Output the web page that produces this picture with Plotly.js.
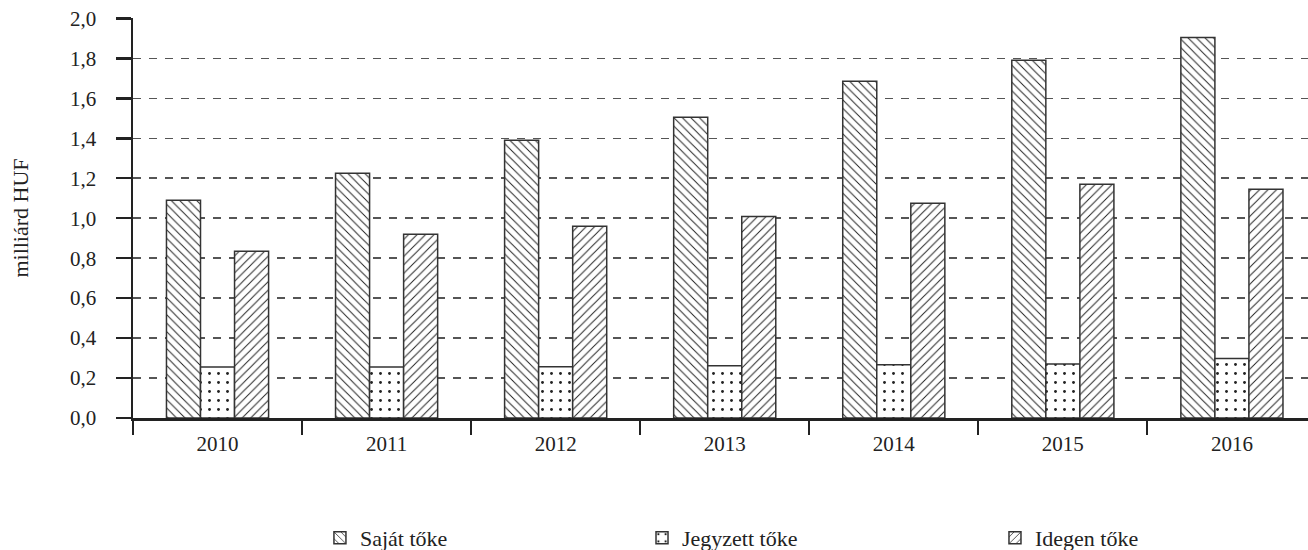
<!DOCTYPE html>
<html>
<head>
<meta charset="utf-8">
<script src="https://cdn.plot.ly/plotly-3.0.1.min.js"></script>
<style>html,body{margin:0;padding:0;background:#fff}</style>
</head>
<body>
<div id="chart" style="width:1308px;height:550px"></div>
<script>
const years = ['2010','2011','2012','2013','2014','2015','2016'];
const sajatToke = [1.09, 1.225, 1.39, 1.505, 1.685, 1.79, 1.905];
const jegyzettToke = [0.255, 0.255, 0.257, 0.262, 0.267, 0.27, 0.298];
const idegenToke = [0.835, 0.92, 0.96, 1.008, 1.075, 1.17, 1.145];
const seriesNames = ['Saját tőke', 'Jegyzett tőke', 'Idegen tőke'];

const font = {family: 'Liberation Serif, serif', size: 21, color: '#222'};
const legendFont = {family: 'Liberation Serif, serif', size: 22, color: '#222'};
const titleFont = {family: 'Liberation Serif, serif', size: 22, color: '#222'};

function bar(name, y, shape, size, solidity, legendId) {
  return {
    type: 'bar', name: name, x: years, y: y, legend: legendId,
    marker: {
      color: '#fff',
      line: {color: '#333', width: 1.5},
      pattern: {shape: shape, fgcolor: '#222', bgcolor: '#fff', size: size, solidity: solidity, fillmode: 'replace'}
    },
    hoverinfo: 'x+y+name'
  };
}

const data = [
  bar(seriesNames[0], sajatToke, '\\', 6, 0.16, 'legend'),
  bar(seriesNames[1], jegyzettToke, '.', 9, 0.08, 'legend2'),
  bar(seriesNames[2], idegenToke, '/', 6, 0.16, 'legend3')
];

function leg(x) {
  return {orientation: 'h', x: x, xanchor: 'left', y: -0.3, yanchor: 'middle',
          font: legendFont, bgcolor: 'rgba(0,0,0,0)', borderwidth: 0};
}

const layout = {
  width: 1308, height: 550,
  margin: {l: 133, r: 0, t: 18, b: 132, autoexpand: false},
  paper_bgcolor: '#fff', plot_bgcolor: '#fff',
  font: font,
  separators: ', ',
  barmode: 'group', bargap: 0.396, bargroupgap: 0,
  showlegend: true,
  legend: leg(0.1591),
  legend2: leg(0.4332),
  legend3: leg(0.7336),
  xaxis: {
    type: 'category', range: [-0.5, 6.45],
    tickson: 'boundaries', ticks: 'outside', ticklen: 14, tickwidth: 2, tickcolor: '#222',
    ticklabelstandoff: 5,
    showline: true, linecolor: '#222', linewidth: 2.5,
    showgrid: false, zeroline: false, tickfont: font, fixedrange: true, automargin: false
  },
  yaxis: {
    range: [0, 2.002], dtick: 0.2, tick0: 0, tickformat: '.1f',
    ticks: 'outside', ticklen: 15, tickwidth: 2.5, tickcolor: '#222',
    ticklabelstandoff: 15,
    showline: true, linecolor: '#222', linewidth: 2.5,
    showgrid: true, gridcolor: '#555', gridwidth: 1.5, griddash: '8px,8px',
    zeroline: false, tickfont: font,
    title: {text: 'milliárd HUF', font: titleFont, standoff: 36},
    fixedrange: true, automargin: false
  }
};

Plotly.newPlot('chart', data, layout, {displayModeBar: false, staticPlot: true});
</script>
</body>
</html>
